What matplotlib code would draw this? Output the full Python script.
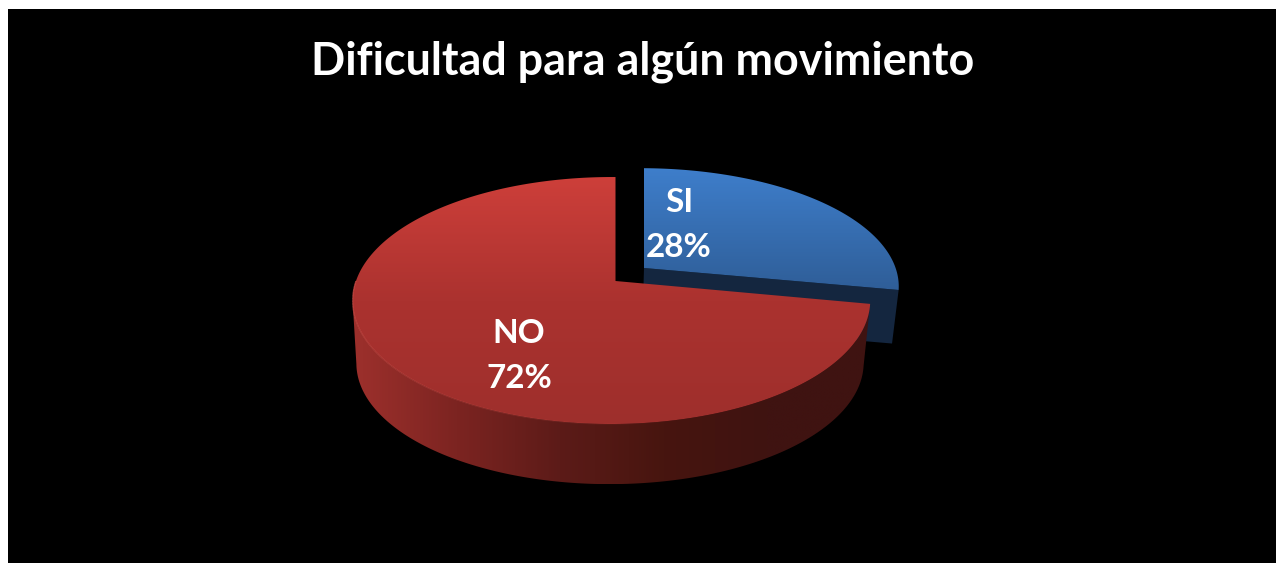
# -*- coding: utf-8 -*-
import matplotlib
matplotlib.use('Agg')
import matplotlib.pyplot as plt
import numpy as np
from matplotlib.collections import LineCollection
from matplotlib.colors import LinearSegmentedColormap
from matplotlib.patches import Polygon, Rectangle

title = 'Dificultad para algún movimiento'
categories = ['SI', 'NO']
values = [28, 72]

plt.rcParams['font.family'] = ['Lato', 'DejaVu Sans']

# pie is drawn in pixel coordinates of the picture
W, H = 1276, 563
RX, RY = 255.5, 120.4
KX, KY = 0.0155, 0.158


def project(theta, cx, cy, scale=1.0, yscale=1.0):
    X, Y = np.cos(theta), np.sin(theta)
    w = 1 + KX * X + KY * Y
    return cx + scale * RX * X / w, cy - scale * yscale * RY * Y / w


def fill_gradient(ax, pts, colors, vertical=True):
    x0, y0 = pts.min(axis=0)
    x1, y1 = pts.max(axis=0)
    cmap = LinearSegmentedColormap.from_list('g', colors)
    g = np.linspace(0, 1, 256)
    g = g.reshape(-1, 1) if vertical else g.reshape(1, -1)
    im = ax.imshow(g, cmap=cmap, vmin=0, vmax=1, extent=(x0, x1, y1, y0),
                   origin='upper', aspect='auto', zorder=ax.zo, interpolation='bilinear')
    patch = Polygon(pts, closed=True, transform=ax.transData, facecolor='none', edgecolor='none')
    ax.add_patch(patch)
    im.set_clip_path(patch)
    ax.zo += 1


fig = plt.figure(figsize=(W / 100, H / 100), dpi=100, facecolor='white')
ax = fig.add_axes([0, 0, 1, 1])
ax.zo = 2
ax.add_patch(Rectangle((8, 9), W - 8, H - 9, facecolor='black', edgecolor='none', zorder=1))

# slice angles, clockwise from 12 o'clock
si_sweep = values[0] / sum(values) * 2 * np.pi
a_top = np.pi / 2
a_end = a_top - si_sweep

# SI slice: pulled out, dark cut face, then top
t = np.linspace(a_top, a_end, 200)
si_cx, si_cy = 644, 268
bx, by = project(t, si_cx - 1.5, si_cy + 54, 0.98, 0.96)
tx, ty = project(t, si_cx, si_cy, 1.0, 0.96)
si_side = np.array([[si_cx, si_cy], [tx[-1], ty[-1]], [bx[-1], by[-1]], [si_cx - 1.5, si_cy + 54]])
ax.add_patch(Polygon(si_side, closed=True, facecolor='#14263f', edgecolor='none', zorder=ax.zo))
ax.zo += 1
si_top = np.vstack([[si_cx, si_cy], np.column_stack([tx, ty])])
fill_gradient(ax, si_top, ['#3e7ecb', '#2f5e98'])

# NO slice: outer wall, then top
no_cx, no_cy = 615.5, 281
t = np.linspace(a_end, a_top - 2 * np.pi, 400)
tx, ty = project(t, no_cx, no_cy)
# wall stops at the leftmost point of the top so the side edge runs straight down
wall_t = t[(t <= a_end) & (t >= -0.95 * np.pi)]
wx, wy = project(wall_t, no_cx, no_cy)
bx, by = project(wall_t, no_cx - 1.5, no_cy + 63, 0.98)
no_wall = np.vstack([np.column_stack([wx, wy]), np.column_stack([bx, by])[::-1]])
fill_gradient(ax, no_wall, ['#9d302c', '#7c2421', '#5c1b18', '#47150f', '#3f1311', '#3f1311'], vertical=False)
no_top = np.vstack([[no_cx, no_cy], np.column_stack([tx, ty])])
fill_gradient(ax, no_top, ['#cd3f3a', '#ab322f', '#9e2f2c'])

# thin light rim on the front left of the top, fading out towards the right
rim_t = np.linspace(-np.pi, -np.pi * 0.42, 150)
rx_, ry_ = project(rim_t, no_cx, no_cy)
rim_pts = np.column_stack([rx_, ry_]).reshape(-1, 1, 2)
rim_segs = np.concatenate([rim_pts[:-1], rim_pts[1:]], axis=1)
rim = LineCollection(rim_segs, colors='#d9544e', linewidths=0.9, zorder=ax.zo)
rim.set_alpha(np.linspace(0.7, 0, len(rim_segs)))
ax.add_collection(rim)
ax.zo += 1

ax.text(643, 62, title, color='white', fontsize=32.3, fontweight='bold',
        ha='center', va='center', zorder=ax.zo)
label_pos = [(679, 225), (519, 356)]
for cat, val, (x, y) in zip(categories, values, label_pos):
    ax.text(x, y, '{}\n{}%'.format(cat, val), color='white', fontsize=24, fontweight='bold',
            ha='center', va='center', linespacing=1.68, zorder=ax.zo)

ax.set_xlim(0, W)
ax.set_ylim(H, 0)
ax.axis('off')
fig.savefig('out.png', dpi=100, facecolor='white')
